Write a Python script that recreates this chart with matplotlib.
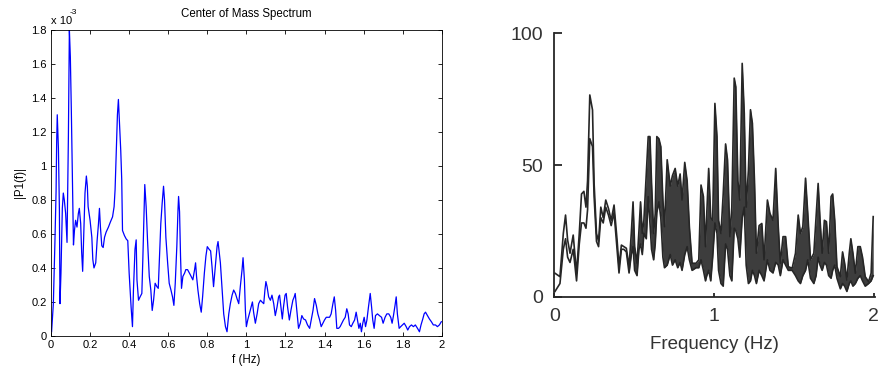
import matplotlib
matplotlib.use("Agg")
import matplotlib.pyplot as plt
import numpy as np

plt.rcParams['font.family'] = ['Liberation Sans', 'DejaVu Sans']

# Panel izquierdo: espectro del centro de masa (valores en unidades de 1e-3)
f_cm = [0.003, 0.012, 0.02, 0.026, 0.029, 0.032, 0.038, 0.043, 0.046, 0.051,
        0.058, 0.063, 0.068, 0.075, 0.082, 0.089, 0.094, 0.099, 0.104, 0.109,
        0.115, 0.12, 0.126, 0.133, 0.14, 0.145, 0.152, 0.157, 0.162, 0.169,
        0.174, 0.181, 0.186, 0.19, 0.2, 0.209, 0.214, 0.22, 0.229, 0.236,
        0.243, 0.248, 0.253, 0.26, 0.267, 0.274, 0.282, 0.294, 0.304, 0.315,
        0.323, 0.328, 0.335, 0.34, 0.345, 0.35, 0.357, 0.362, 0.366, 0.376,
        0.385, 0.393, 0.4, 0.405, 0.41, 0.417, 0.422, 0.43, 0.436, 0.44,
        0.448, 0.456, 0.465, 0.47, 0.48, 0.487, 0.494, 0.503, 0.511, 0.518,
        0.525, 0.533, 0.542, 0.549, 0.556, 0.562, 0.569, 0.576, 0.581, 0.588,
        0.597, 0.605, 0.614, 0.622, 0.629, 0.636, 0.644, 0.65, 0.653, 0.658,
        0.663, 0.668, 0.675, 0.684, 0.69, 0.699, 0.713, 0.726, 0.735, 0.74,
        0.745, 0.752, 0.761, 0.769, 0.776, 0.785, 0.793, 0.8, 0.809, 0.817,
        0.824, 0.832, 0.841, 0.85, 0.855, 0.86, 0.867, 0.876, 0.884, 0.893,
        0.901, 0.91, 0.918, 0.927, 0.935, 0.944, 0.952, 0.961, 0.969, 0.978,
        0.983, 0.99, 0.995, 1.0, 1.007, 1.015, 1.024, 1.031, 1.037, 1.046,
        1.055, 1.063, 1.072, 1.08, 1.089, 1.095, 1.1, 1.106, 1.114, 1.123,
        1.131, 1.14, 1.148, 1.157, 1.165, 1.17, 1.177, 1.184, 1.19, 1.198,
        1.204, 1.211, 1.22, 1.228, 1.238, 1.245, 1.25, 1.259, 1.267, 1.276,
        1.284, 1.293, 1.303, 1.313, 1.324, 1.332, 1.341, 1.349, 1.358, 1.366,
        1.375, 1.383, 1.392, 1.4, 1.409, 1.417, 1.426, 1.434, 1.443, 1.45,
        1.457, 1.463, 1.472, 1.48, 1.489, 1.497, 1.506, 1.514, 1.521, 1.528,
        1.537, 1.545, 1.554, 1.562, 1.569, 1.576, 1.583, 1.589, 1.596, 1.603,
        1.61, 1.617, 1.625, 1.634, 1.641, 1.647, 1.654, 1.661, 1.671, 1.681,
        1.692, 1.70, 1.71, 1.719, 1.729, 1.739, 1.746, 1.753, 1.761, 1.767,
        1.773, 1.782, 1.79, 1.799, 1.808, 1.818, 1.826, 1.835, 1.845, 1.855,
        1.865, 1.876, 1.886, 1.894, 1.903, 1.91, 1.917, 1.927, 1.937, 1.947,
        1.957, 1.968, 1.978, 1.988, 1.998]
p1_cm = [0.025, 0.19, 0.55, 0.85, 1.14, 1.30, 1.10, 0.74, 0.19, 0.37,
         0.75, 0.84, 0.80, 0.72, 0.55, 1.17, 1.80, 1.64, 1.33, 0.95,
         0.535, 0.62, 0.68, 0.64, 0.72, 0.75, 0.66, 0.49, 0.38, 0.64,
         0.84, 0.94, 0.88, 0.76, 0.68, 0.58, 0.45, 0.40, 0.43, 0.56,
         0.66, 0.75, 0.64, 0.53, 0.52, 0.58, 0.61, 0.64, 0.67, 0.70,
         0.76, 0.86, 1.11, 1.30, 1.39, 1.27, 1.09, 0.92, 0.62, 0.59,
         0.57, 0.56, 0.37, 0.27, 0.17, 0.055, 0.27, 0.51, 0.565, 0.33,
         0.21, 0.23, 0.25, 0.45, 0.89, 0.76, 0.565, 0.35, 0.27, 0.15,
         0.21, 0.31, 0.29, 0.28, 0.49, 0.66, 0.78, 0.88, 0.80, 0.58,
         0.43, 0.31, 0.27, 0.23, 0.18, 0.31, 0.525, 0.74, 0.82, 0.73,
         0.47, 0.28, 0.35, 0.37, 0.39, 0.39, 0.36, 0.33, 0.39, 0.43,
         0.35, 0.27, 0.19, 0.14, 0.23, 0.37, 0.47, 0.525, 0.51, 0.50,
         0.41, 0.29, 0.41, 0.525, 0.555, 0.505, 0.43, 0.27, 0.13, 0.055,
         0.025, 0.13, 0.19, 0.24, 0.27, 0.25, 0.22, 0.19, 0.29, 0.39,
         0.46, 0.33, 0.15, 0.055, 0.094, 0.13, 0.17, 0.20, 0.14, 0.075,
         0.13, 0.19, 0.21, 0.20, 0.19, 0.27, 0.32, 0.29, 0.23, 0.21,
         0.24, 0.19, 0.12, 0.17, 0.23, 0.24, 0.17, 0.10, 0.17, 0.24,
         0.25, 0.17, 0.094, 0.15, 0.21, 0.23, 0.25, 0.14, 0.045, 0.075,
         0.12, 0.10, 0.094, 0.065, 0.045, 0.094, 0.15, 0.22, 0.18, 0.13,
         0.094, 0.055, 0.075, 0.094, 0.11, 0.11, 0.11, 0.13, 0.19, 0.23,
         0.15, 0.045, 0.045, 0.055, 0.075, 0.094, 0.11, 0.16, 0.13, 0.065,
         0.055, 0.075, 0.094, 0.14, 0.094, 0.045, 0.075, 0.025, 0.075, 0.11,
         0.055, 0.094, 0.17, 0.25, 0.17, 0.094, 0.045, 0.12, 0.13, 0.12,
         0.11, 0.075, 0.11, 0.13, 0.13, 0.11, 0.075, 0.12, 0.18, 0.23,
         0.13, 0.045, 0.055, 0.065, 0.075, 0.055, 0.035, 0.055, 0.065, 0.055,
         0.065, 0.045, 0.025, 0.065, 0.10, 0.13, 0.14, 0.12, 0.10, 0.084,
         0.065, 0.065, 0.055, 0.065, 0.084]

# Panel derecho: espectro escaneado, envolvente superior e inferior
f_scan = [0.004, 0.035, 0.056, 0.07, 0.083, 0.098, 0.118, 0.139, 0.156, 0.17,
          0.185, 0.198, 0.208, 0.222, 0.239, 0.249, 0.264, 0.277, 0.291, 0.306,
          0.322, 0.339, 0.356, 0.374, 0.393, 0.405, 0.42, 0.435, 0.451, 0.468,
          0.482, 0.493, 0.503, 0.518, 0.53, 0.54, 0.551, 0.561, 0.576, 0.588,
          0.599, 0.609, 0.622, 0.632, 0.642, 0.655, 0.667, 0.68, 0.69, 0.707,
          0.726, 0.74, 0.757, 0.773, 0.788, 0.8, 0.817, 0.832, 0.846, 0.863,
          0.888, 0.905, 0.919, 0.934, 0.947, 0.955, 0.967, 0.98, 0.992, 1.006,
          1.019, 1.029, 1.044, 1.058, 1.073, 1.085, 1.1, 1.112, 1.127, 1.137,
          1.15, 1.162, 1.177, 1.19, 1.202, 1.216, 1.229, 1.241, 1.254, 1.266,
          1.283, 1.3, 1.314, 1.335, 1.351, 1.37, 1.387, 1.403, 1.416, 1.433,
          1.449, 1.466, 1.49, 1.511, 1.528, 1.542, 1.557, 1.574, 1.588, 1.605,
          1.626, 1.64, 1.653, 1.665, 1.678, 1.692, 1.705, 1.719, 1.734, 1.744,
          1.757, 1.771, 1.792, 1.806, 1.819, 1.833, 1.848, 1.858, 1.871, 1.886,
          1.902, 1.917, 1.931, 1.948, 1.969, 1.985, 1.998]
upper_scan = [8.9, 7.6, 24, 31, 21.5, 16.5, 23.4, 8.9, 24, 39,
              40, 34, 44, 76.6, 70.9, 43, 24, 21, 34, 30,
              36.7, 33.5, 29, 34.8, 21.5, 11.4, 19.6, 19, 18.4, 11.4,
              24, 36, 19, 12.7, 25, 36, 24, 29, 47, 60.8,
              60.8, 43, 24, 31.6, 60.8, 60, 57, 36.7, 26.6, 52,
              42, 46, 48.7, 42, 46.6, 36.7, 51, 44, 26.6, 12.7,
              12.7, 14, 42.4, 38, 19, 31.6, 48.7, 30, 29, 73.4,
              60.8, 29, 24, 39, 58, 52, 22.8, 34, 83, 79.7,
              44, 36.7, 88.6, 69.6, 34, 48, 71, 65.8, 44, 16.5,
              27, 27.8, 14, 36.7, 31.6, 29, 48.7, 26.6, 12.7, 22.8,
              22.8, 11.4, 10.8, 16.5, 31, 24, 26.6, 45, 31.6, 14,
              16.5, 30, 43, 29, 16.5, 29, 28.5, 16.5, 38, 39,
              29, 11.4, 7.6, 17, 12.7, 6.3, 16.5, 22, 16.5, 8.9,
              19, 19, 15, 7.6, 5.7, 8.9, 30.4]
lower_scan = [2, 5, 18, 22, 15, 13, 18, 6, 20, 28,
              28, 26, 33, 60, 57, 38, 21, 19, 30, 28,
              34, 31, 27, 32, 18, 9, 18, 18, 17, 9,
              16, 19, 10, 8, 18, 20, 16, 24, 22, 38,
              28, 18, 14, 20, 32, 36, 30, 15, 11, 12,
              16, 12, 14, 11, 13, 10, 16, 19, 14, 10,
              11, 11, 14, 10, 6, 8, 10, 6, 15, 28,
              24, 10, 5, 4, 20, 18, 8, 6, 26, 25,
              22, 15, 30, 34, 12, 5, 6, 10, 8, 5,
              10, 8, 6, 14, 10, 9, 13, 12, 8, 14,
              12, 10, 10, 8, 6, 5, 8, 10, 14, 7,
              5, 8, 15, 12, 10, 13, 12, 8, 7, 10,
              12, 7, 3, 5, 4, 2, 5, 6, 4, 5,
              7, 8, 6, 4, 5, 6, 8]

fig = plt.figure(figsize=(8.87, 3.73), dpi=100)

# ---- panel izquierdo (estilo MATLAB)
ax1 = fig.add_axes([0.0575, 0.0992, 0.4405, 0.8212])
ax1.plot(f_cm, p1_cm, color='blue', linewidth=0.9)
ax1.set_xlim(0, 2)
ax1.set_ylim(0, 1.8)
xt = [0, 0.2, 0.4, 0.6, 0.8, 1, 1.2, 1.4, 1.6, 1.8, 2]
yt = [0, 0.2, 0.4, 0.6, 0.8, 1, 1.2, 1.4, 1.6, 1.8]
ax1.set_xticks(xt)
ax1.set_xticklabels([f"{v:g}" for v in xt])
ax1.set_yticks(yt)
ax1.set_yticklabels([f"{v:g}" for v in yt])
ax1.tick_params(direction='in', top=True, right=True, length=3, width=0.6,
                labelsize=8, pad=3)
for s in ax1.spines.values():
    s.set_linewidth(0.6)
ax1.set_title("Center of Mass Spectrum", fontsize=8.3, pad=9)
ax1.set_xlabel("f (Hz)", fontsize=8.3, labelpad=3)
ax1.set_ylabel("|P1(f)|", fontsize=8.3, labelpad=4)
ax1.text(0.0, 1.012, "x 10", transform=ax1.transAxes, fontsize=8,
         ha='left', va='bottom')
ax1.text(0.048, 1.045, "-3", transform=ax1.transAxes, fontsize=6,
         ha='left', va='bottom')

# ---- panel derecho (figura escaneada)
ink = '#262626'
ax2 = fig.add_axes([0.625, 0.2046, 0.3616, 0.706])
fs = np.array(f_scan)
up = np.array(upper_scan)
lo = np.array(lower_scan)
ax2.fill_between(fs, lo, up, where=fs >= 0.46, color='#3d3d3d',
                 linewidth=0, interpolate=True)
ax2.plot(fs, up, color=ink, linewidth=1.2)
ax2.plot(fs, lo, color=ink, linewidth=1.2)
ax2.set_xlim(0, 2.01)
ax2.set_ylim(0, 100)
ax2.spines['top'].set_visible(False)
ax2.spines['right'].set_visible(False)
ax2.spines['left'].set_color(ink)
ax2.spines['bottom'].set_color(ink)
ax2.spines['left'].set_linewidth(1.3)
ax2.spines['bottom'].set_linewidth(1.3)
ax2.set_xticks([0, 1, 2])
ax2.set_xticklabels(["0", "1", "2"])
ax2.set_yticks([0, 50, 100])
ax2.set_yticklabels(["0", "50", "100"])
ax2.tick_params(axis='y', direction='in', length=6, width=1.3, color=ink,
                labelsize=14, labelcolor='#333333', pad=8)
ax2.tick_params(axis='x', direction='in', length=3, width=1.3, color=ink,
                labelsize=14, labelcolor='#333333', pad=8)
ax2.set_xlabel("Frequency (Hz)", fontsize=13.5, color='#333333', labelpad=8)

fig.savefig("out.png", dpi=100)
